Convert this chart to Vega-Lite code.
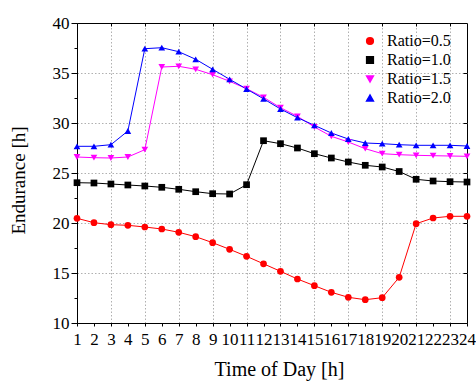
{
  "$schema": "https://vega.github.io/schema/vega-lite/v6.json",
  "width": 390,
  "height": 300,
  "autosize": "none",
  "padding": {"left": 77, "top": 23, "right": 9, "bottom": 58},
  "background": "white",
  "config": {
    "view": {"stroke": "black", "strokeWidth": 1},
    "font": "Liberation Serif",
    "axis": {"grid": false, "labelFont": "Liberation Serif", "titleFont": "Liberation Serif", "labelColor": "black", "titleColor": "black", "domainColor": "black", "tickColor": "black", "titleFontWeight": "normal", "gridColor": "#b0b0b0", "gridDash": [1.5, 2], "gridWidth": 1},
    "legend": {"labelFont": "Liberation Serif", "labelColor": "black"}
  },
  "data": {"values": [
    {"hour": 1, "ratio": "Ratio=0.5", "endurance": 20.47},
    {"hour": 2, "ratio": "Ratio=0.5", "endurance": 20.03},
    {"hour": 3, "ratio": "Ratio=0.5", "endurance": 19.83},
    {"hour": 4, "ratio": "Ratio=0.5", "endurance": 19.77},
    {"hour": 5, "ratio": "Ratio=0.5", "endurance": 19.6},
    {"hour": 6, "ratio": "Ratio=0.5", "endurance": 19.4},
    {"hour": 7, "ratio": "Ratio=0.5", "endurance": 19.07},
    {"hour": 8, "ratio": "Ratio=0.5", "endurance": 18.63},
    {"hour": 9, "ratio": "Ratio=0.5", "endurance": 18.03},
    {"hour": 10, "ratio": "Ratio=0.5", "endurance": 17.37},
    {"hour": 11, "ratio": "Ratio=0.5", "endurance": 16.67},
    {"hour": 12, "ratio": "Ratio=0.5", "endurance": 15.92},
    {"hour": 13, "ratio": "Ratio=0.5", "endurance": 15.17},
    {"hour": 14, "ratio": "Ratio=0.5", "endurance": 14.4},
    {"hour": 15, "ratio": "Ratio=0.5", "endurance": 13.73},
    {"hour": 16, "ratio": "Ratio=0.5", "endurance": 13.07},
    {"hour": 17, "ratio": "Ratio=0.5", "endurance": 12.57},
    {"hour": 18, "ratio": "Ratio=0.5", "endurance": 12.33},
    {"hour": 19, "ratio": "Ratio=0.5", "endurance": 12.53},
    {"hour": 20, "ratio": "Ratio=0.5", "endurance": 14.57},
    {"hour": 21, "ratio": "Ratio=0.5", "endurance": 19.93},
    {"hour": 22, "ratio": "Ratio=0.5", "endurance": 20.5},
    {"hour": 23, "ratio": "Ratio=0.5", "endurance": 20.67},
    {"hour": 24, "ratio": "Ratio=0.5", "endurance": 20.67},
    {"hour": 1, "ratio": "Ratio=1.0", "endurance": 24.03},
    {"hour": 2, "ratio": "Ratio=1.0", "endurance": 24.0},
    {"hour": 3, "ratio": "Ratio=1.0", "endurance": 23.9},
    {"hour": 4, "ratio": "Ratio=1.0", "endurance": 23.8},
    {"hour": 5, "ratio": "Ratio=1.0", "endurance": 23.7},
    {"hour": 6, "ratio": "Ratio=1.0", "endurance": 23.57},
    {"hour": 7, "ratio": "Ratio=1.0", "endurance": 23.37},
    {"hour": 8, "ratio": "Ratio=1.0", "endurance": 23.13},
    {"hour": 9, "ratio": "Ratio=1.0", "endurance": 22.93},
    {"hour": 10, "ratio": "Ratio=1.0", "endurance": 22.9},
    {"hour": 11, "ratio": "Ratio=1.0", "endurance": 23.83},
    {"hour": 12, "ratio": "Ratio=1.0", "endurance": 28.23},
    {"hour": 13, "ratio": "Ratio=1.0", "endurance": 27.93},
    {"hour": 14, "ratio": "Ratio=1.0", "endurance": 27.5},
    {"hour": 15, "ratio": "Ratio=1.0", "endurance": 26.93},
    {"hour": 16, "ratio": "Ratio=1.0", "endurance": 26.5},
    {"hour": 17, "ratio": "Ratio=1.0", "endurance": 26.1},
    {"hour": 18, "ratio": "Ratio=1.0", "endurance": 25.77},
    {"hour": 19, "ratio": "Ratio=1.0", "endurance": 25.6},
    {"hour": 20, "ratio": "Ratio=1.0", "endurance": 25.15},
    {"hour": 21, "ratio": "Ratio=1.0", "endurance": 24.37},
    {"hour": 22, "ratio": "Ratio=1.0", "endurance": 24.2},
    {"hour": 23, "ratio": "Ratio=1.0", "endurance": 24.13},
    {"hour": 24, "ratio": "Ratio=1.0", "endurance": 24.1},
    {"hour": 1, "ratio": "Ratio=1.5", "endurance": 26.6},
    {"hour": 2, "ratio": "Ratio=1.5", "endurance": 26.53},
    {"hour": 3, "ratio": "Ratio=1.5", "endurance": 26.5},
    {"hour": 4, "ratio": "Ratio=1.5", "endurance": 26.6},
    {"hour": 5, "ratio": "Ratio=1.5", "endurance": 27.33},
    {"hour": 6, "ratio": "Ratio=1.5", "endurance": 35.6},
    {"hour": 7, "ratio": "Ratio=1.5", "endurance": 35.67},
    {"hour": 8, "ratio": "Ratio=1.5", "endurance": 35.37},
    {"hour": 9, "ratio": "Ratio=1.5", "endurance": 34.83},
    {"hour": 10, "ratio": "Ratio=1.5", "endurance": 34.17},
    {"hour": 11, "ratio": "Ratio=1.5", "endurance": 33.43},
    {"hour": 12, "ratio": "Ratio=1.5", "endurance": 32.57},
    {"hour": 13, "ratio": "Ratio=1.5", "endurance": 31.53},
    {"hour": 14, "ratio": "Ratio=1.5", "endurance": 30.67},
    {"hour": 15, "ratio": "Ratio=1.5", "endurance": 29.6},
    {"hour": 16, "ratio": "Ratio=1.5", "endurance": 28.67},
    {"hour": 17, "ratio": "Ratio=1.5", "endurance": 28.1},
    {"hour": 18, "ratio": "Ratio=1.5", "endurance": 27.43},
    {"hour": 19, "ratio": "Ratio=1.5", "endurance": 26.93},
    {"hour": 20, "ratio": "Ratio=1.5", "endurance": 26.83},
    {"hour": 21, "ratio": "Ratio=1.5", "endurance": 26.77},
    {"hour": 22, "ratio": "Ratio=1.5", "endurance": 26.73},
    {"hour": 23, "ratio": "Ratio=1.5", "endurance": 26.7},
    {"hour": 24, "ratio": "Ratio=1.5", "endurance": 26.67},
    {"hour": 1, "ratio": "Ratio=2.0", "endurance": 27.67},
    {"hour": 2, "ratio": "Ratio=2.0", "endurance": 27.67},
    {"hour": 3, "ratio": "Ratio=2.0", "endurance": 27.83},
    {"hour": 4, "ratio": "Ratio=2.0", "endurance": 29.2},
    {"hour": 5, "ratio": "Ratio=2.0", "endurance": 37.43},
    {"hour": 6, "ratio": "Ratio=2.0", "endurance": 37.53},
    {"hour": 7, "ratio": "Ratio=2.0", "endurance": 37.13},
    {"hour": 8, "ratio": "Ratio=2.0", "endurance": 36.37},
    {"hour": 9, "ratio": "Ratio=2.0", "endurance": 35.37},
    {"hour": 10, "ratio": "Ratio=2.0", "endurance": 34.37},
    {"hour": 11, "ratio": "Ratio=2.0", "endurance": 33.4},
    {"hour": 12, "ratio": "Ratio=2.0", "endurance": 32.42},
    {"hour": 13, "ratio": "Ratio=2.0", "endurance": 31.4},
    {"hour": 14, "ratio": "Ratio=2.0", "endurance": 30.53},
    {"hour": 15, "ratio": "Ratio=2.0", "endurance": 29.77},
    {"hour": 16, "ratio": "Ratio=2.0", "endurance": 29.0},
    {"hour": 17, "ratio": "Ratio=2.0", "endurance": 28.4},
    {"hour": 18, "ratio": "Ratio=2.0", "endurance": 28.0},
    {"hour": 19, "ratio": "Ratio=2.0", "endurance": 27.93},
    {"hour": 20, "ratio": "Ratio=2.0", "endurance": 27.83},
    {"hour": 21, "ratio": "Ratio=2.0", "endurance": 27.77},
    {"hour": 22, "ratio": "Ratio=2.0", "endurance": 27.77},
    {"hour": 23, "ratio": "Ratio=2.0", "endurance": 27.77},
    {"hour": 24, "ratio": "Ratio=2.0", "endurance": 27.7}
  ]},
  "resolve": {"axis": {"x": "independent", "y": "independent"}},
  "layer": [
    {
      "mark": {"type": "point", "opacity": 0},
      "encoding": {
        "x": {"field": "hour", "type": "quantitative", "scale": {"domain": [1, 24], "nice": false, "zero": false},
              "axis": {"orient": "top", "values": [3, 5, 7, 9, 11, 13, 15, 17, 19, 21, 23], "grid": true, "labels": false, "domain": false, "tickSize": -3, "title": null}},
        "y": {"field": "endurance", "type": "quantitative", "scale": {"domain": [10, 40], "nice": false, "zero": false},
              "axis": {"orient": "right", "values": [15, 20, 25, 30, 35], "grid": true, "labels": false, "domain": false, "tickSize": -4, "title": null}}
      }
    },
    {
      "mark": {"type": "point", "opacity": 0},
      "encoding": {
        "x": {"field": "hour", "type": "quantitative", "axis": null},
        "y": {"field": "endurance", "type": "quantitative",
              "axis": {"orient": "left", "values": [12.5, 17.5, 22.5, 27.5, 32.5, 37.5], "grid": false, "labels": false, "domain": false, "tickSize": 3, "title": null}}
      }
    },
    {
      "mark": {"type": "line", "strokeWidth": 1},
      "encoding": {
        "x": {"field": "hour", "type": "quantitative",
              "axis": {"orient": "bottom", "values": [1,2,3,4,5,6,7,8,9,10,11,12,13,14,15,16,17,18,19,20,21,22,23,24], "grid": false, "tickSize": 3, "labelPadding": 5, "labelFont": "Liberation Serif", "labelFontSize": 17, "labelOverlap": false, "labelFlush": false, "labelBound": false,
                       "title": "Time of Day [h]", "titleFont": "Liberation Serif", "titleFontSize": 20, "titleX": 202, "titleY": 52, "titleBaseline": "alphabetic", "titleAnchor": null, "titleAlign": "center"}},
        "y": {"field": "endurance", "type": "quantitative",
              "axis": {"orient": "left", "values": [10, 15, 20, 25, 30, 35, 40], "grid": false, "tickSize": 6, "labelPadding": 2, "labelFont": "Liberation Serif", "labelFontSize": 17, "labelOverlap": false, "labelFlush": false, "labelBound": false,
                       "title": "Endurance [h]", "titleFont": "Liberation Serif", "titleFontSize": 19, "titleX": -53, "titleY": 157, "titleBaseline": "alphabetic", "titleAlign": "center", "titleAngle": -90}},
        "color": {"field": "ratio", "type": "nominal",
                  "scale": {"domain": ["Ratio=0.5", "Ratio=1.0", "Ratio=1.5", "Ratio=2.0"], "range": ["#ff0000", "#000000", "#ff00ff", "#0000ff"]},
                  "legend": {"title": null, "orient": "none", "legendX": 285, "legendY": 10, "padding": 0, "symbolSize": 45, "labelFont": "Liberation Serif", "labelFontSize": 16, "labelOffset": 9, "rowPadding": 3}}
      }
    },
    {
      "mark": {"type": "point", "filled": true, "opacity": 1, "size": 45},
      "encoding": {
        "x": {"field": "hour", "type": "quantitative", "axis": null},
        "y": {"field": "endurance", "type": "quantitative", "axis": null},
        "color": {"field": "ratio", "type": "nominal", "legend": null},
        "shape": {"field": "ratio", "type": "nominal", "legend": null,
                  "scale": {"domain": ["Ratio=0.5", "Ratio=1.0", "Ratio=1.5", "Ratio=2.0"], "range": ["circle", "square", "triangle-down", "triangle-up"]}}
      }
    }
  ]
}
